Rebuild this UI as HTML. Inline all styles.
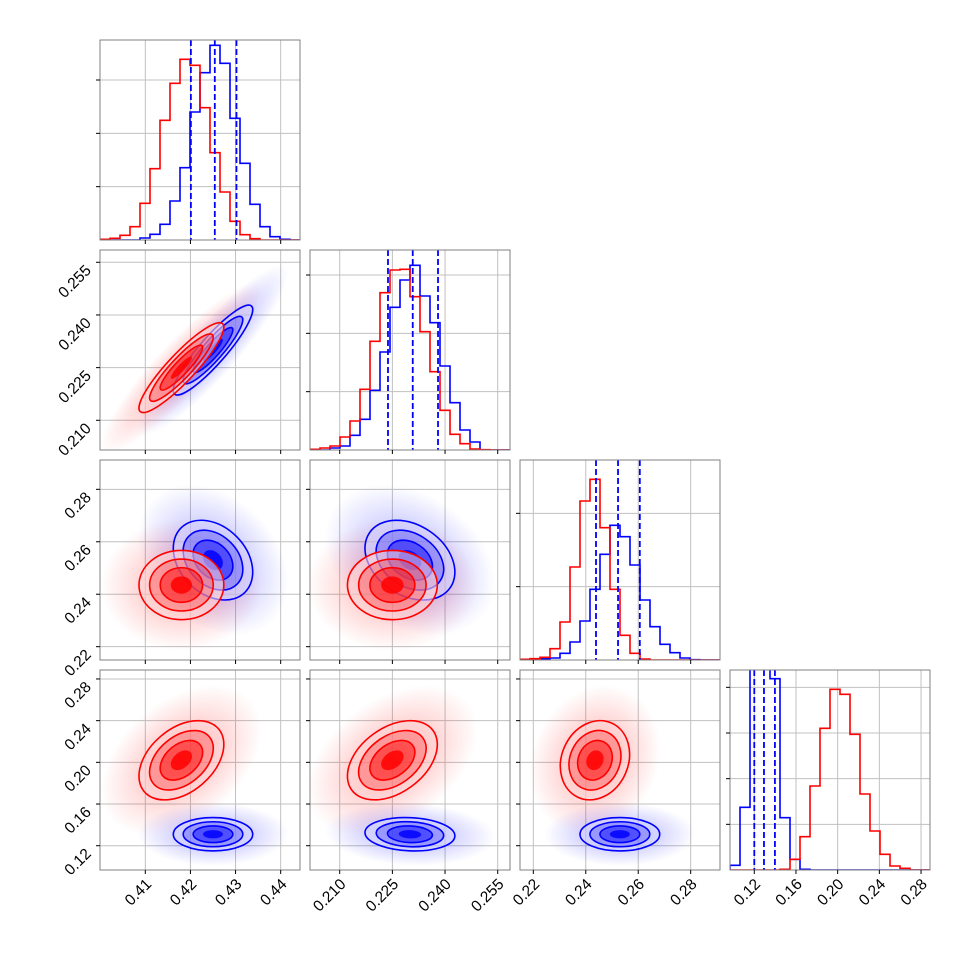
<!DOCTYPE html>
<html><head><meta charset="utf-8"><style>
html,body{margin:0;padding:0;background:#fff;}
svg{display:block;font-family:"Liberation Sans",sans-serif;}
</style></head><body>
<svg id="chart" width="970" height="970" viewBox="0 0 970 970">
<defs>
<radialGradient id="gr" cx="0.5" cy="0.5" r="0.5"><stop offset="0" stop-color="#ff0000" stop-opacity="0.4"/><stop offset="0.45" stop-color="#ff0000" stop-opacity="0.18"/><stop offset="1" stop-color="#ff0000" stop-opacity="0"/></radialGradient>
<radialGradient id="gb" cx="0.5" cy="0.5" r="0.5"><stop offset="0" stop-color="#0000ff" stop-opacity="0.4"/><stop offset="0.45" stop-color="#0000ff" stop-opacity="0.18"/><stop offset="1" stop-color="#0000ff" stop-opacity="0"/></radialGradient>
</defs>
</svg>
<script>
// ---- data ----
const ranges=[[0.39996,0.44428],[0.20154,0.2585],[0.21492,0.29118],[0.0967,0.2886]];
const ticksA=[0.41,0.42,0.43,0.44];
const ticksB=[0.210,0.225,0.240,0.255];
const ticksC=[0.22,0.24,0.26,0.28];
const ticksD=[0.12,0.16,0.20,0.24,0.28];
const labelsA=["0.41","0.42","0.43","0.44"];
const labelsB=["0.210","0.225","0.240","0.255"];
const labelsC=["0.22","0.24","0.26","0.28"];
const labelsD=["0.12","0.16","0.20","0.24","0.28"];
const histRedA=[2,5,14,40,110,214,359,470,542,524,397,262,144,56,16,4,0,0,0,0];
const histBlueA=[0,0,0,0,6,17,47,117,217,384,502,584,530,365,230,107,40,10,2,0];
const histRedB=[2,6,12,39,87,182,326,472,540,542,460,355,235,119,47,19,3,1,0,0];
const histBlueB=[0,0,6,12,44,92,179,294,428,510,554,462,382,252,142,60,24,0,0,0];
const histRedC=[2,4,8,34,114,279,477,542,397,212,74,20,3,0,0,0,0,0,0,0];
const histBlueC=[0,0,4,6,20,54,117,212,317,404,370,285,180,100,47,22,6,1,0,0];
const histRedD=[0,0,0,0,0,2,32,100,252,425,542,527,407,228,117,47,12,5,0,0];
const histBlueD=[14,188,900,950,574,157,32,2,0,0,0,0,0,0,0,0,0,0,0,0];
const histTicksA=[160,320,480];
const histTicksB=[175,350,525];
const histTicksC=[220,440];
const histTicksD=[137,274,411,548];
const quantA=[0.4201,0.4254,0.4302];
const quantB=[0.22375,0.2308,0.2380];
const quantC=[0.2439,0.2523,0.2606];
const quantD=[0.1200,0.1293,0.1398];
const meanRed=[0.418,0.225,0.2435,0.202];
const meanBlue=[0.425,0.230,0.253,0.131];
const sdRed=[0.0047,0.0064,0.0066,0.019];
const sdBlue=[0.0044,0.0064,0.0076,0.008];
const corrRed=[[1,0.9,0,0.4],[0.9,1,0,0.4],[0,0,1,0.15],[0.4,0.4,0.15,1]];
const corrBlue=[[1,0.9,-0.3,0],[0.9,1,-0.3,-0.1],[-0.3,-0.3,1,0],[0,-0.1,0,1]];

const ticks=[ticksA,ticksB,ticksC,ticksD];
const labels=[labelsA,labelsB,labelsC,labelsD];
const hists=[[histBlueA,histRedA],[histBlueB,histRedB],[histBlueC,histRedC],[histBlueD,histRedD]];
const histTicks=[histTicksA,histTicksB,histTicksC,histTicksD];
const quants=[quantA,quantB,quantC,quantD];
const histMax=600;

const NS="http://www.w3.org/2000/svg";
const svg=document.getElementById('chart');
function mk(tag,attrs,parent){const e=document.createElementNS(NS,tag);for(const k in attrs)e.setAttribute(k,attrs[k]);(parent||svg).appendChild(e);return e;}
const X0=[100,310,520,730], Y0=[40,250,460,670], S=200;
function sx(col,v){const r=ranges[col];return X0[col]+(v-r[0])/(r[1]-r[0])*S;}
function sy(row,v){const r=ranges[row];return Y0[row]+S-(v-r[0])/(r[1]-r[0])*S;}
function hy(row,c){return Y0[row]+S-c/histMax*S;}

for(let row=0;row<4;row++){
 for(let col=0;col<=row;col++){
  const g=mk('g',{});
  
  
  const cid='clip'+row+col;
  const cp=mk('clipPath',{id:cid},g);mk('rect',{x:X0[col],y:Y0[row],width:S,height:S},cp);
  const grid=mk('g',{stroke:'#c0c0c0','stroke-width':1},g);
  
  
  ticks[col].forEach(t=>{const x=sx(col,t);mk('line',{x1:x,x2:x,y1:Y0[row],y2:Y0[row]+S},grid);});
  const yt=row===col?histTicks[col].map(c=>hy(row,c)):ticks[row].map(t=>sy(row,t));
  yt.forEach(y=>mk('line',{x1:X0[col],x2:X0[col]+S,y1:y,y2:y},grid));
  const content=mk('g',{'clip-path':'url(#'+cid+')'},g);
  if(row===col){
   const cols=['#0000ff','#ff0000'];
   hists[col].forEach((h,si)=>{
    const r=ranges[col],w=(r[1]-r[0])/h.length;
    let d='M'+sx(col,r[0])+','+hy(row,0);
    h.forEach((c,i)=>{d+=' V'+hy(row,c)+' H'+sx(col,r[0]+(i+1)*w);});
    d+=' V'+hy(row,0);
    const p=mk('path',{d:d,fill:'none',stroke:cols[si],'stroke-width':1.6},content);
    
    
   });
   quants[col].forEach(q=>{const x=sx(col,q);
    const l=mk('line',{x1:x,x2:x,y1:Y0[row],y2:Y0[row]+S,stroke:'#0000ff','stroke-width':1.8,'stroke-dasharray':'6,3'},content);
    
    
   });
  } else {
   const series=[[meanBlue,sdBlue,corrBlue,'#0000ff','gb'],[meanRed,sdRed,corrRed,'#ff0000','gr']];
   const ells=series.map(([m,s,c,color,grad])=>{
    const kx=S/(ranges[col][1]-ranges[col][0]),ky=-S/(ranges[row][1]-ranges[row][0]);
    const a=s[col]*kx,b=s[row]*ky;
    const Sxx=a*a,Syy=b*b,Sxy=c[col][row]*a*b;
    const th=0.5*Math.atan2(2*Sxy,Sxx-Syy);
    const mdl=(Sxx+Syy)/2,dd=Math.sqrt(((Sxx-Syy)/2)**2+Sxy*Sxy);
    return {cx:sx(col,m[col]),cy:sy(row,m[row]),r1:Math.sqrt(mdl+dd),r2:Math.sqrt(mdl-dd),deg:th*180/Math.PI,color,grad};
   });
   ells.forEach(e=>{
    const cl=mk('ellipse',{cx:e.cx,cy:e.cy,rx:e.r1*3.8,ry:e.r2*3.8,fill:'url(#'+e.grad+')',transform:`rotate(${e.deg} ${e.cx} ${e.cy})`},content);
    
    
   });
   ells.forEach(e=>{
    const cg=mk('g',{transform:`rotate(${e.deg} ${e.cx} ${e.cy})`},content);
    
    
    mk('ellipse',{cx:e.cx,cy:e.cy,rx:e.r1*2,ry:e.r2*2,fill:'#fff','fill-opacity':0.55},cg);
    [[2,0.1],[1.5,0.25],[1,0.45],[0.5,0.85]].forEach(([k,o])=>mk('ellipse',{cx:e.cx,cy:e.cy,rx:e.r1*k,ry:e.r2*k,fill:e.color,'fill-opacity':o},cg));
    [2,1.5,1].forEach(k=>mk('ellipse',{cx:e.cx,cy:e.cy,rx:e.r1*k,ry:e.r2*k,fill:'none',stroke:e.color,'stroke-width':1.6},cg));
   });
  }
  mk('rect',{x:X0[col],y:Y0[row],width:S,height:S,fill:'none',stroke:'#808080','stroke-width':1},g);
  const tk=mk('g',{stroke:'#000','stroke-width':1},g);
  ticks[col].forEach(t=>{const x=sx(col,t);mk('line',{x1:x,x2:x,y1:Y0[row]+S,y2:Y0[row]+S+4},tk);});
  yt.forEach(y=>mk('line',{x1:X0[col]-4,x2:X0[col],y1:y,y2:y},tk));
  if(row===3){
   ticks[col].forEach((t,i)=>{const x=sx(col,t);
    const tx=mk('text',{x:x+7,y:Y0[3]+S+15,'font-size':15.5,'text-anchor':'end',transform:`rotate(-45 ${x+7} ${Y0[3]+S+15})`},svg);
    tx.textContent=labels[col][i];
    
    
   });
  }
  if(col===0&&row>0){
   ticks[row].forEach((t,i)=>{const y=sy(row,t);
    const tx=mk('text',{x:X0[0]-8,y:y+9,'font-size':15.5,'text-anchor':'end',transform:`rotate(-45 ${X0[0]-8} ${y+9})`},svg);
    tx.textContent=labels[row][i];
    
    
   });
  }
 }
}
</script>
</body></html>
